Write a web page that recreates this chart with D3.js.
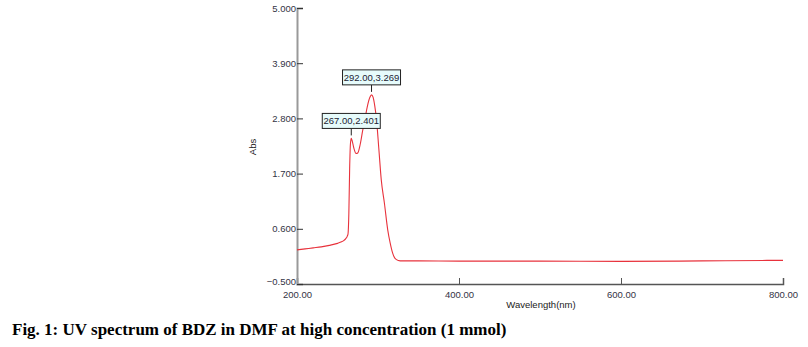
<!DOCTYPE html>
<html><head><meta charset="utf-8">
<script src="https://cdn.jsdelivr.net/npm/d3@7"></script>
<style>body{margin:0;background:#fff}svg{display:block}</style>
</head><body>
<script>
const wavelengths = [200,210,220,230,240,250,255,258,260,262,263,264,265,266,267,268,270,273,275,278,281,284,287,290,292,294,296,298,301,304,308,312,315,318,321,325,330,350,400,500,600,700,780,800];
const absorbance = [0.18,0.20,0.22,0.24,0.27,0.31,0.34,0.37,0.40,0.45,0.50,0.9,1.8,2.3,2.401,2.36,2.22,2.10,2.11,2.28,2.55,2.80,3.05,3.22,3.269,3.22,3.05,2.80,2.20,1.58,1.10,0.58,0.32,0.12,0.01,-0.03,-0.04,-0.04,-0.045,-0.045,-0.05,-0.04,-0.03,-0.03];
const yTicks = [5.0,3.9,2.8,1.7,0.6,-0.5];
const xTicks = [200,400,600,800];
const peaks = [{w:292,a:3.269,label:"292.00,3.269"},{w:267,a:2.401,label:"267.00,2.401"}];
const caption = "Fig. 1: UV spectrum of BDZ in DMF at high concentration (1 mmol)";

const W=808,H=347;
const svg=d3.select("body").append("svg").attr("width",W).attr("height",H);
const x=d3.scaleLinear().domain([200,800]).range([297,783]);
const y=d3.scaleLinear().domain([-0.5,5.0]).range([284,8]);
const font="Liberation Sans, Arial, sans-serif";

// axes
const gx=svg.append("g").attr("transform","translate(0,284)")
  .call(d3.axisBottom(x).tickValues(xTicks).tickSize(-6).tickPadding(7).tickFormat(d3.format(".2f")));
gx.select(".domain").attr("stroke","#555").attr("stroke-width",1.5);
gx.selectAll(".tick line").attr("stroke","#555");
gx.selectAll("text").attr("font-family",font).attr("font-size",9.5).attr("fill","#334");

const gy=svg.append("g").attr("transform","translate(297,0)")
  .call(d3.axisLeft(y).tickValues(yTicks).tickSize(-6).tickPadding(1).tickFormat(d3.format(".3f")));
gy.select(".domain").attr("stroke","#999").attr("stroke-width",2);
gy.selectAll(".tick line").attr("stroke","#333");
gy.selectAll("text").attr("font-family",font).attr("font-size",9.5).attr("fill","#334")
  .attr("dy",d=>d===-0.5?"0.1em":"0.32em");

// axis labels
svg.append("text").attr("x",541).attr("y",308).attr("text-anchor","middle")
  .attr("font-family",font).attr("font-size",9.5).attr("fill","#222").text("Wavelength(nm)");
svg.append("text").attr("transform","translate(256,147) rotate(-90)").attr("text-anchor","middle")
  .attr("font-family",font).attr("font-size",9.5).attr("fill","#222").text("Abs");

// spectrum
const data=wavelengths.map((w,i)=>({w,a:absorbance[i]}));
svg.append("path").datum(data)
  .attr("fill","none").attr("stroke","#e8323c").attr("stroke-width",1.1)
  .attr("d",d3.line().x(d=>x(d.w)).y(d=>y(d.a)).curve(d3.curveMonotoneX));

// peak annotations
peaks.forEach(p=>{
  const px=x(p.w), py=y(p.a);
  const bh=15, bw=58;
  const bottom=py-10;
  svg.append("line").attr("x1",px).attr("x2",px).attr("y1",bottom).attr("y2",py-3)
    .attr("stroke","#222").attr("stroke-width",1);
  svg.append("rect").attr("x",px-29).attr("y",bottom-bh).attr("width",bw).attr("height",bh)
    .attr("fill","#e6fbfb").attr("stroke","#222").attr("stroke-width",1);
  svg.append("text").attr("x",px).attr("y",bottom-4).attr("text-anchor","middle")
    .attr("font-family",font).attr("font-size",9.5).attr("fill","#223").text(p.label);
});

// caption
svg.append("text").attr("x",12).attr("y",335)
  .attr("font-family","Liberation Serif, Times New Roman, serif").attr("font-weight","bold").attr("font-size",17)
  .attr("fill","#000").text(caption);
</script>
</body></html>
